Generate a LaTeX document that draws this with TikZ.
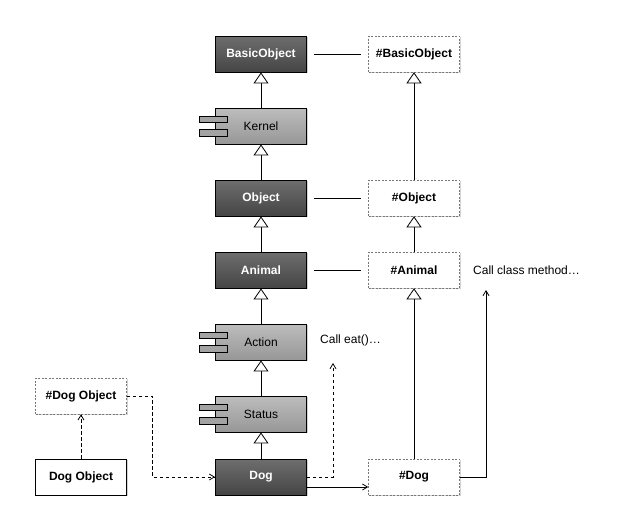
\documentclass[tikz,border=0pt]{standalone}
\usepackage{fontspec}
\setmainfont{Liberation Sans}
\usetikzlibrary{arrows.meta,shadows,calc}
\definecolor{dtop}{HTML}{6E6E6E}
\definecolor{dbot}{HTML}{454545}
\definecolor{ctop}{HTML}{BDBDBD}
\definecolor{cbot}{HTML}{979797}
\definecolor{tabc}{HTML}{A3A3A3}
\definecolor{dashc}{HTML}{777777}
\tikzset{
  box/.style={minimum width=91pt, minimum height=36pt, inner sep=0pt,
    font=\fontsize{12}{14}\selectfont},
  shad/.style={drop shadow={shadow xshift=1.2pt, shadow yshift=-1.2pt, opacity=0.35}},
  darkbox/.style={box, shad, draw=black, line width=0.9pt, top color=dtop, bottom color=dbot,
    text=white, font=\fontsize{12}{14}\selectfont\bfseries},
  compbox/.style={box, shad, draw=black, line width=0.9pt, top color=ctop, bottom color=cbot,
    text=black},
  metabox/.style={box, shad, draw=dashc, line width=0.6pt, dash pattern=on 2pt off 1.5pt,
    fill=white, text=black, font=\fontsize{12}{14}\selectfont\bfseries},
  objbox/.style={box, shad, draw=black, line width=0.9pt, fill=white,
    text=black, font=\fontsize{12}{14}\selectfont\bfseries},
  tabbox/.style={draw=black, line width=0.8pt, fill=tabc},
  inherit/.style={draw=black, line width=0.8pt, -{Triangle[open, fill=white, length=11pt, width=15pt]}},
  assoc/.style={draw=black, line width=0.8pt},
  callarrow/.style={draw=black, line width=0.8pt, -{Straight Barb[length=5pt, width=6pt]}},
  dasharrow/.style={callarrow, dash pattern=on 3.5pt off 2.5pt},
  note/.style={font=\fontsize{12}{14}\selectfont, anchor=west, inner sep=0pt}
}
\newcommand{\comptabs}[1]{%
  \draw[tabbox] ($(#1.west)+(-16,-10)$) rectangle ($(#1.west)+(12,-4)$);
  \draw[tabbox] ($(#1.west)+(-16,3)$) rectangle ($(#1.west)+(12,10)$);
}
\begin{document}
\begin{tikzpicture}[x=1pt, y=-1pt]
\useasboundingbox (0,0) rectangle (621,531);
% left column
\node[darkbox] (basic) at (261,54) {BasicObject};
\node[compbox] (kernel) at (261,126) {Kernel};
\comptabs{kernel}
\node[darkbox] (object) at (261,198) {Object};
\node[darkbox] (animal) at (261,270) {Animal};
\node[compbox] (action) at (261,342) {Action};
\comptabs{action}
\node[compbox] (status) at (261,414) {Status};
\comptabs{status}
\node[darkbox] (dog) at (261,477) {Dog};
% right column
\node[metabox] (mbasic) at (414,54) {\#BasicObject};
\node[metabox] (mobject) at (414,198) {\#Object};
\node[metabox] (manimal) at (414,270) {\#Animal};
\node[metabox] (mdog) at (414,477) {\#Dog};
% objects
\node[metabox] (mdogobj) at (81,396) {\#Dog Object};
\node[objbox] (dogobj) at (81,477) {Dog Object};
% notes
\node[note] (noteeat) at (320,340) {Call eat()…};
\node[note] (noteclass) at (473,270) {Call class method…};
\coordinate (eattip) at (333,363);
\coordinate (classtip) at (486,290);
% inheritance left
\draw[inherit] (kernel) -- (basic);
\draw[inherit] (object) -- (kernel);
\draw[inherit] (animal) -- (object);
\draw[inherit] (action) -- (animal);
\draw[inherit] (status) -- (action);
\draw[inherit] (dog) -- (status);
% inheritance right
\draw[inherit] (mobject) -- (mbasic);
\draw[inherit] (manimal) -- (mobject);
\draw[inherit] (mdog) -- (manimal);
% associations
\draw[assoc] ($(basic.east)+(7,0)$) -- ($(mbasic.west)+(-7,0)$);
\draw[assoc] ($(object.east)+(7,0)$) -- ($(mobject.west)+(-7,0)$);
\draw[assoc] ($(animal.east)+(7,0)$) -- ($(manimal.west)+(-7,0)$);
% calls
\draw[dasharrow] (dog.east) -| (eattip);
\draw[callarrow] (mdog.east) -| (classtip);
\draw[callarrow] ($(dog.east)+(0,10)$) -- ($(mdog.west)+(0,10)$);
\draw[dasharrow] (dogobj) -- (mdogobj);
\draw[dasharrow] (mdogobj.east) -- ++(26,0) |- (dog.west);
\end{tikzpicture}
\end{document}
